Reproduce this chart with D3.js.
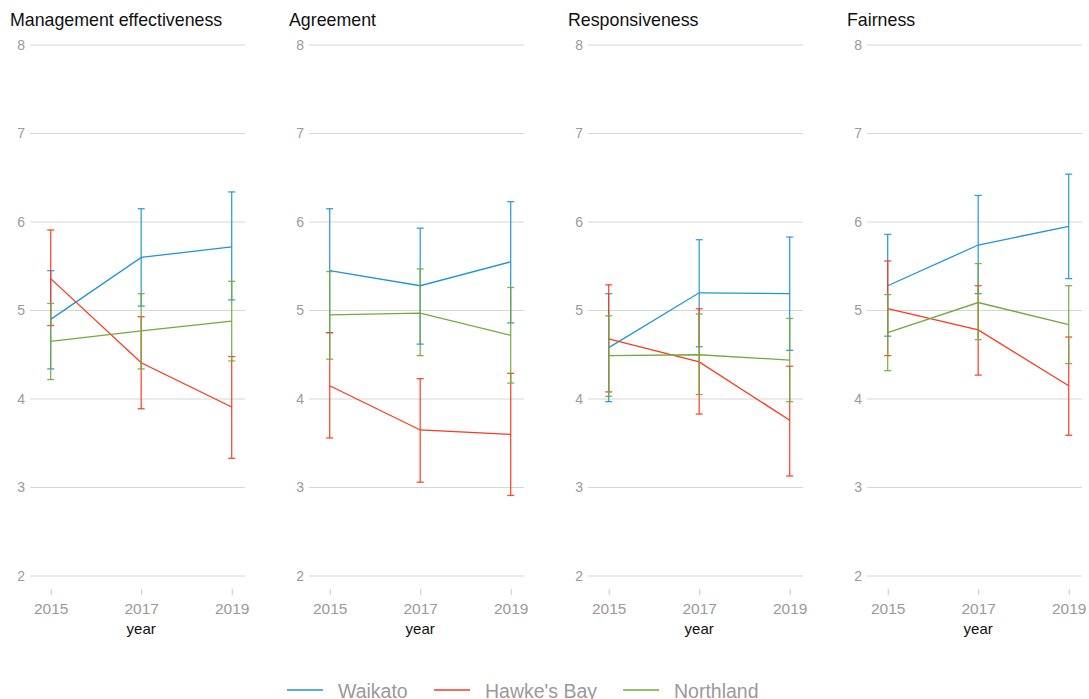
<!DOCTYPE html>
<html><head><meta charset="utf-8">
<script src="https://cdn.jsdelivr.net/npm/d3@7"></script>
<style>body{margin:0;background:#fff}svg{display:block;font-family:"Liberation Sans",Arial,sans-serif}</style>
</head><body>
<script>
const panels = ["Management effectiveness","Agreement","Responsiveness","Fairness"];
const years = [2015, 2017, 2019];
const regions = ["Waikato","Hawke's Bay","Northland"];
const colors = ["#1e96d6","#fb3a1b","#72aa3c"];
const yTicks = [2,3,4,5,6,7,8];
// [panel][region] -> values per year
const meanVals = [
  [[4.90,5.60,5.72],[5.36,4.41,3.91],[4.65,4.77,4.88]],
  [[5.45,5.28,5.55],[4.15,3.65,3.60],[4.95,4.97,4.72]],
  [[4.58,5.20,5.19],[4.68,4.42,3.76],[4.49,4.50,4.44]],
  [[5.28,5.74,5.95],[5.02,4.78,4.15],[4.75,5.09,4.84]]
];
const upperVals = [
  [[5.45,6.15,6.34],[5.91,4.93,4.48],[5.08,5.19,5.33]],
  [[6.15,5.93,6.23],[4.75,4.23,4.29],[5.44,5.47,5.26]],
  [[5.19,5.80,5.83],[5.29,5.02,4.37],[4.94,4.96,4.91]],
  [[5.86,6.30,6.54],[5.56,5.28,4.70],[5.18,5.53,5.28]]
];
const lowerVals = [
  [[4.34,5.05,5.12],[4.83,3.89,3.33],[4.22,4.34,4.43]],
  [[4.75,4.62,4.86],[3.56,3.06,2.91],[4.45,4.49,4.18]],
  [[3.97,4.59,4.55],[4.08,3.83,3.13],[4.03,4.05,3.97]],
  [[4.71,5.19,5.36],[4.49,4.27,3.59],[4.32,4.67,4.40]]
];

const W = 1089, H = 699;
const svg = d3.select("body").append("svg").attr("width", W).attr("height", H);
const y = d3.scaleLinear().domain([2, 8]).range([576, 45]);
const panelStep = 279;

panels.forEach((title, p) => {
  const off = p * panelStep;
  const x = d3.scaleLinear().domain([2015, 2019]).range([50.7 + off, 231.7 + off]);
  const g = svg.append("g");
  // gridlines
  g.selectAll("line.grid").data(yTicks).enter().append("line")
    .attr("x1", 30 + off).attr("x2", 245 + off)
    .attr("y1", d => y(d)).attr("y2", d => y(d))
    .attr("stroke", "#d6d6d6").attr("stroke-width", 1);
  // y labels
  g.selectAll("text.yl").data(yTicks).enter().append("text")
    .attr("x", 25 + off).attr("y", d => y(d)).attr("dy", "0.35em")
    .attr("text-anchor", "end").attr("font-size", 14).attr("fill", "#9a9a9a")
    .text(d => d);
  // x axis
  const xAxis = d3.axisBottom(x).tickValues(years).tickFormat(d3.format("d")).tickSize(6).tickPadding(8);
  const ax = g.append("g").attr("transform", "translate(0,589)").call(xAxis);
  ax.select(".domain").remove();
  ax.selectAll(".tick line").attr("stroke", "#c8c8c8");
  ax.selectAll(".tick text").attr("font-size", 15.5).attr("fill", "#9a9a9a").attr("font-family", "Liberation Sans, Arial, sans-serif");
  g.append("text").attr("x", x(2017)).attr("y", 634).attr("text-anchor", "middle")
    .attr("font-size", 15).attr("fill", "#111").text("year");
  // title
  g.append("text").attr("x", 10 + off).attr("y", 26).attr("font-size", 17.8).attr("fill", "#111").text(title);

  regions.forEach((r, ri) => {
    const pts = years.map((yr, i) => ({yr, m: meanVals[p][ri][i], lo: lowerVals[p][ri][i], hi: upperVals[p][ri][i]}));
    const col = colors[ri];
    g.append("path").datum(pts)
      .attr("d", d3.line().x(d => x(d.yr)).y(d => y(d.m)))
      .attr("fill", "none").attr("stroke", col).attr("stroke-width", 1.3);
    const eb = g.selectAll(null).data(pts).enter().append("g").attr("stroke", col).attr("stroke-width", 1.3).attr("stroke-opacity", 0.9);
    eb.append("line").attr("x1", d => x(d.yr)).attr("x2", d => x(d.yr)).attr("y1", d => y(d.lo)).attr("y2", d => y(d.hi));
    eb.append("line").attr("x1", d => x(d.yr) - 3.5).attr("x2", d => x(d.yr) + 3.5).attr("y1", d => y(d.lo)).attr("y2", d => y(d.lo));
    eb.append("line").attr("x1", d => x(d.yr) - 3.5).attr("x2", d => x(d.yr) + 3.5).attr("y1", d => y(d.hi)).attr("y2", d => y(d.hi));
  });
});

// legend
const legX = [287, 434, 623];
const leg = svg.append("g");
regions.forEach((r, i) => {
  leg.append("line").attr("x1", legX[i]).attr("x2", legX[i] + 36).attr("y1", 690).attr("y2", 690)
    .attr("stroke", colors[i]).attr("stroke-width", 1.5);
  leg.append("text").attr("x", legX[i] + 51).attr("y", 698).attr("font-size", 19.5).attr("fill", "#9a9a9a").text(r);
});
</script>
</body></html>
